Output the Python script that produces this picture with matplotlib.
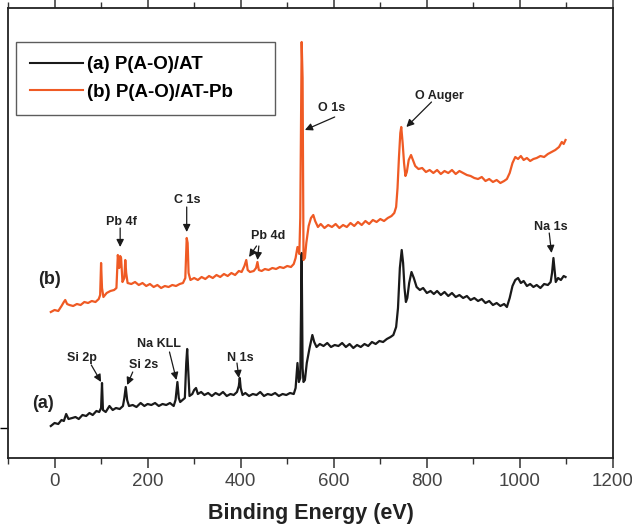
import matplotlib
matplotlib.use("Agg")
import matplotlib.pyplot as plt
from matplotlib.ticker import MultipleLocator, FixedLocator

plt.rcParams['font.family'] = ['Liberation Sans', 'DejaVu Sans']

# ---- data (binding energy eV, intensity a.u.) ----
energy_a = [-8, 0, 8, 15, 20, 25, 30, 38, 45, 52, 60, 68, 75, 82, 90, 96, 100, 102, 104, 110,
            118, 125, 132, 140, 147, 150, 153, 156, 160, 168, 176, 185, 193, 200, 208, 216, 224,
            232, 240, 248, 256, 260, 264, 267, 270, 275, 280, 283, 285, 287, 290, 296, 300, 304,
            308, 315, 322, 330, 338, 346, 354, 362, 370, 378, 385, 392, 396, 398, 400, 404, 410,
            418, 426, 434, 442, 450, 458, 466, 474, 482, 490, 498, 506, 514, 518, 522, 525, 528,
            531, 533, 535, 538, 542, 548, 554, 558, 563, 570, 578, 586, 594, 602, 610, 618, 626,
            634, 642, 650, 658, 666, 674, 682, 690, 698, 706, 714, 722, 728, 734, 738, 742, 746,
            749, 752, 755, 758, 762, 767, 772, 778, 785, 792, 800, 808, 815, 822, 830, 838, 846,
            854, 862, 870, 878, 886, 894, 902, 910, 918, 926, 934, 942, 950, 958, 966, 972, 978,
            984, 990, 996, 1002, 1008, 1015, 1022, 1029, 1036, 1044, 1052, 1060, 1066, 1069, 1072,
            1074, 1077, 1082, 1088, 1094, 1098]
intensity_a = [32, 35, 34, 38, 37, 44, 39, 40, 41, 39, 43, 42, 45, 43, 47, 46, 50, 75, 48, 46,
               52, 48, 50, 49, 52, 60, 71, 58, 52, 53, 51, 55, 52, 54, 53, 55, 52,
               54, 53, 55, 52, 58, 76, 60, 56, 58, 60, 95, 109, 90, 62, 64, 68, 70,
               64, 66, 63, 65, 62, 65, 63, 66, 62, 64, 63, 66, 72, 80, 70, 63, 65,
               62, 64, 63, 66, 62, 64, 63, 65, 62, 64, 63, 65, 64, 70, 95, 76, 80,
               205, 90, 76, 78, 95, 110, 123, 116, 111, 114, 112, 115, 111, 113, 112, 115, 111,
               114, 110, 113, 111, 114, 112, 116, 114, 117, 116, 119, 121, 123, 131, 150, 190, 208,
               195, 170, 156, 160, 175, 186, 180, 171, 168, 170, 165, 167, 164, 167, 163, 166, 162,
               165, 161, 163, 160, 162, 158, 160, 157, 159, 155, 157, 153, 155, 152, 154, 151, 160,
               172, 178, 180, 175, 177, 172, 174, 171, 173, 170, 174, 173, 176, 185, 200,
               190, 176, 180, 178, 182, 181]

energy_b = [-8, 0, 8, 15, 20, 23, 27, 32, 40, 48, 56, 64, 72, 80, 88, 95, 98, 100, 102, 105,
            112, 120, 128, 133, 136, 139, 141, 143, 146, 150, 152, 154, 157, 165, 173, 181, 189,
            197, 205, 213, 221, 229, 237, 245, 253, 261, 269, 276, 281, 284, 286, 288, 292, 300,
            308, 316, 324, 332, 340, 348, 356, 364, 372, 380, 388, 396, 402, 408, 412, 415, 420,
            428, 433, 436, 439, 445, 452, 460, 468, 476, 484, 492, 500, 508, 514, 518, 522, 526,
            528, 531, 533, 535, 538, 541, 546, 551, 556, 560, 566, 572, 580, 588, 596, 604, 612,
            620, 628, 636, 644, 652, 660, 668, 676, 684, 692, 700, 708, 716, 724, 730, 734, 737,
            740, 743, 745, 748, 751, 754, 757, 761, 766, 770, 775, 782, 790, 798, 806, 814, 822,
            830, 838, 846, 854, 862, 870, 878, 886, 894, 902, 910, 918, 926, 934, 942, 950, 958,
            966, 972, 978, 984, 990, 996, 1002, 1008, 1015, 1022, 1029, 1036, 1044, 1052, 1060,
            1068, 1076, 1084, 1090, 1094, 1098]
intensity_b = [146, 148, 147, 152, 156, 158, 154, 153, 152, 154, 153, 156, 155, 157, 156, 159, 163, 195, 170, 161,
               165, 167, 168, 170, 203, 190, 202, 200, 176, 180, 198, 185, 175, 174, 176, 173, 175,
               172, 174, 171, 173, 170, 172, 171, 173, 172, 174, 175, 180, 220, 215, 185, 178, 180,
               178, 181, 179, 182, 180, 183, 181, 184, 182, 185, 183, 187, 186, 192, 198, 188, 186,
               187, 190, 196, 188, 187, 189, 188, 190, 189, 191, 190, 192, 191, 194, 200, 211, 204,
               240, 416, 380, 198, 200, 215, 232, 240, 243, 237, 231, 234, 230, 233, 231, 234, 230,
               233, 231, 235, 232, 236, 233, 237, 234, 238, 236, 239, 237, 240, 242, 245, 251, 270,
               300, 325, 331, 315, 295, 282, 286, 298, 303, 298, 292, 289, 290, 286, 288, 285, 288,
               284, 287, 285, 288, 284, 287, 285, 283, 282, 280, 279, 281, 277, 279, 276, 278, 275,
               277, 279, 285, 295, 301, 299, 302, 298, 300, 297, 299, 300, 302, 301, 304,
               306, 308, 311, 316, 314, 318]

series_labels = ['(a) P(A-O)/AT', '(b) P(A-O)/AT-Pb']

# annotations: label, text position (E, I), arrow start, arrow end
peak_labels = [
    ('Pb 4f', (143, 236), (141, 230), (141, 211)),
    ('C 1s', (286, 258), (284, 251), (284, 226)),
    ('O 1s', (596, 350), (602, 341), (538, 328)),
    ('O Auger', (826, 362), (810, 356), (756, 331)),
    ('Na 1s', (1067, 231), (1063, 225), (1068, 205)),
    ('Si 2p', (59, 100), (79, 93), (100, 76)),
    ('Si 2s', (192, 93), (168, 86), (156, 73)),
    ('Na KLL', (224, 114), (247, 106), (262, 78)),
    ('N 1s', (400, 100), (392, 95), (396, 80)),
]
pb4d_label = ('Pb 4d', (458, 222), [((434, 212), (418, 201)), ((439, 212), (436, 198))])
curve_labels = [('(a)', (-24, 54)), ('(b)', (-11, 179))]

BLACK = '#1a1a1a'
ORANGE = '#ef5a24'

fig = plt.figure(figsize=(6.32, 5.26), dpi=100)
ax = fig.add_axes([8/632, 68/526, 605/632, 450/526])

la, = ax.plot(energy_a, intensity_a, color=BLACK, lw=1.6, label=series_labels[0], zorder=2)
lb, = ax.plot(energy_b, intensity_b, color=ORANGE, lw=1.6, label=series_labels[1], zorder=3)

ax.set_xlim(-100, 1200)
ax.set_ylim(0, 450)

ax.xaxis.set_major_locator(MultipleLocator(200))
ax.xaxis.set_minor_locator(MultipleLocator(100))
ax.yaxis.set_major_locator(FixedLocator([30]))
ax.set_yticklabels([])
ax.tick_params(axis='x', which='major', direction='out', length=7, width=1.1, color='#333333',
               labelsize=13.5, labelcolor='#444444', pad=4, top=True)
ax.tick_params(axis='x', which='minor', direction='out', length=4, width=1.0, color='#333333', top=True)
ax.tick_params(axis='y', which='major', direction='out', length=6, width=1.0, right=False)
for s in ax.spines.values():
    s.set_linewidth(1.3)
    s.set_color('#222222')

arrow_kw = dict(arrowstyle='-|>', color=BLACK, lw=0.9, mutation_scale=11, shrinkA=0, shrinkB=0)
for txt, tpos, a0, a1 in peak_labels:
    ax.text(tpos[0], tpos[1], txt, ha='center', va='center', fontsize=9, fontweight='bold', color='#222222')
    ax.annotate('', xy=a1, xytext=a0, arrowprops=arrow_kw)
ax.text(pb4d_label[1][0], pb4d_label[1][1], pb4d_label[0], ha='center', va='center',
        fontsize=9, fontweight='bold', color='#222222')
for a0, a1 in pb4d_label[2]:
    ax.annotate('', xy=a1, xytext=a0, arrowprops=arrow_kw)
for txt, pos in curve_labels:
    ax.text(pos[0], pos[1], txt, ha='center', va='center', fontsize=13, fontweight='bold', color='#222222')

leg = ax.legend(handles=[la, lb], loc='upper left',
                bbox_to_anchor=(0.0132, 0.773, 0.428, 0.151), mode='expand',
                borderaxespad=0, fancybox=False, frameon=True, edgecolor='#333333',
                prop={'size': 13.5, 'weight': 'bold'}, handlelength=2.8, handletextpad=0.25,
                borderpad=0.75, labelspacing=0.55)
leg.get_frame().set_linewidth(1.0)
for line in leg.get_lines():
    line.set_linewidth(1.5)

ax.set_xlabel('Binding Energy (eV)', fontsize=15.5, fontweight='bold', color='#222222', labelpad=9)

fig.savefig('out.png', dpi=100)
